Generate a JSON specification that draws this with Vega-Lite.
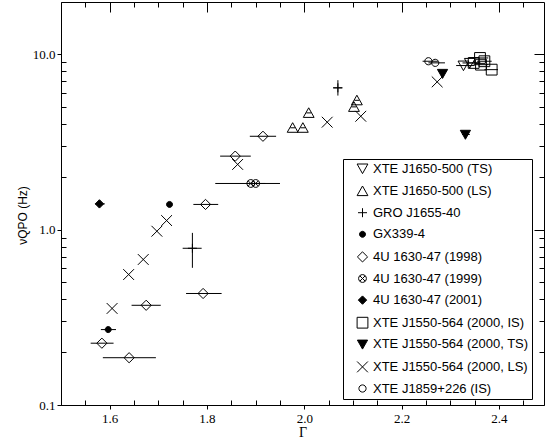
{
  "$schema": "https://vega.github.io/schema/vega-lite/v6.json",
  "autosize": {"type": "none"},
  "padding": {"left": 61, "top": 2, "right": 1, "bottom": 34},
  "width": 483,
  "height": 403,
  "background": "white",
  "config": {
    "view": {"stroke": "black", "strokeWidth": 1},
    "axis": {"domainColor": "black", "tickColor": "black", "labelColor": "black", "titleColor": "black", "grid": false, "ticks": true, "tickWidth": 1, "tickOpacity": 1, "zindex": 2},
    "legend": {"symbolStrokeColor": "black", "symbolStrokeWidth": 1}
  },
  "data": {
    "values": [
      {"s": "XTE J1650-500 (TS)", "x": 2.327, "y": 8.6, "xlo": 2.312, "xhi": 2.350},
      {"s": "XTE J1650-500 (TS)", "x": 2.340, "y": 8.9, "xlo": 2.325, "xhi": 2.360},
      {"s": "XTE J1650-500 (LS)", "x": 1.976, "y": 3.8, "xlo": 1.971, "xhi": 1.981},
      {"s": "XTE J1650-500 (LS)", "x": 1.997, "y": 3.8, "xlo": 1.992, "xhi": 2.002},
      {"s": "XTE J1650-500 (LS)", "x": 2.009, "y": 4.62, "xlo": 2.004, "xhi": 2.014},
      {"s": "XTE J1650-500 (LS)", "x": 2.102, "y": 5.0, "xlo": 2.097, "xhi": 2.107},
      {"s": "XTE J1650-500 (LS)", "x": 2.108, "y": 5.45, "xlo": 2.103, "xhi": 2.113},
      {"s": "GRO J1655-40", "x": 2.069, "y": 6.42, "xlo": 2.059, "xhi": 2.078, "ylo": 5.8, "yhi": 7.1},
      {"s": "GRO J1655-40", "x": 1.770, "y": 0.782, "xlo": 1.750, "xhi": 1.789, "ylo": 0.605, "yhi": 0.957},
      {"s": "GX339-4", "x": 1.723, "y": 1.39},
      {"s": "GX339-4", "x": 1.597, "y": 0.269, "xlo": 1.582, "xhi": 1.613},
      {"s": "4U 1630-47 (1998)", "x": 1.797, "y": 1.39, "xlo": 1.772, "xhi": 1.823},
      {"s": "4U 1630-47 (1998)", "x": 1.858, "y": 2.62, "xlo": 1.827, "xhi": 1.890},
      {"s": "4U 1630-47 (1998)", "x": 1.915, "y": 3.40, "xlo": 1.888, "xhi": 1.942},
      {"s": "4U 1630-47 (1998)", "x": 1.792, "y": 0.432, "xlo": 1.757, "xhi": 1.830},
      {"s": "4U 1630-47 (1998)", "x": 1.675, "y": 0.370, "xlo": 1.645, "xhi": 1.705},
      {"s": "4U 1630-47 (1998)", "x": 1.584, "y": 0.225, "xlo": 1.561, "xhi": 1.608},
      {"s": "4U 1630-47 (1998)", "x": 1.640, "y": 0.186, "xlo": 1.586, "xhi": 1.695},
      {"s": "4U 1630-47 (1999)", "x": 1.890, "y": 1.83, "xlo": 1.817, "xhi": 1.950},
      {"s": "4U 1630-47 (1999)", "x": 1.900, "y": 1.83, "xlo": 1.880, "xhi": 1.920},
      {"s": "4U 1630-47 (2001)", "x": 1.579, "y": 1.40, "xlo": 1.570, "xhi": 1.590},
      {"s": "XTE J1550-564 (2000, IS)", "x": 2.348, "y": 8.9, "xlo": 2.335, "xhi": 2.362},
      {"s": "XTE J1550-564 (2000, IS)", "x": 2.361, "y": 9.5, "xlo": 2.345, "xhi": 2.378},
      {"s": "XTE J1550-564 (2000, IS)", "x": 2.363, "y": 8.7, "xlo": 2.348, "xhi": 2.378},
      {"s": "XTE J1550-564 (2000, IS)", "x": 2.370, "y": 9.1, "xlo": 2.355, "xhi": 2.385},
      {"s": "XTE J1550-564 (2000, IS)", "x": 2.385, "y": 8.15, "xlo": 2.370, "xhi": 2.398},
      {"s": "XTE J1550-564 (2000, TS)", "x": 2.284, "y": 7.74},
      {"s": "XTE J1550-564 (2000, TS)", "x": 2.331, "y": 3.48, "xlo": 2.324, "xhi": 2.340},
      {"s": "XTE J1550-564 (2000, LS)", "x": 1.605, "y": 0.355},
      {"s": "XTE J1550-564 (2000, LS)", "x": 1.639, "y": 0.554},
      {"s": "XTE J1550-564 (2000, LS)", "x": 1.669, "y": 0.675},
      {"s": "XTE J1550-564 (2000, LS)", "x": 1.697, "y": 0.978},
      {"s": "XTE J1550-564 (2000, LS)", "x": 1.717, "y": 1.125},
      {"s": "XTE J1550-564 (2000, LS)", "x": 1.863, "y": 2.35},
      {"s": "XTE J1550-564 (2000, LS)", "x": 2.047, "y": 4.09},
      {"s": "XTE J1550-564 (2000, LS)", "x": 2.116, "y": 4.42},
      {"s": "XTE J1550-564 (2000, LS)", "x": 2.273, "y": 6.94},
      {"s": "XTE J1859+226 (IS)", "x": 2.255, "y": 9.10, "xlo": 2.243, "xhi": 2.275},
      {"s": "XTE J1859+226 (IS)", "x": 2.269, "y": 8.91, "xlo": 2.255, "xhi": 2.289}
    ]
  },
  "resolve": {"axis": {"x": "independent", "y": "independent"}},
  "layer": [
    {
      "transform": [{"filter": "isValid(datum.xlo) && datum.x < 2.2"}],
      "mark": {"type": "rule", "color": "black", "strokeWidth": 1},
      "encoding": {
        "x": {"field": "xlo", "type": "quantitative", "scale": {"domain": [1.5, 2.4925], "nice": false, "zero": false},
          "axis": {"orient": "top", "values": [1.6,1.8,2.0,2.2,2.4], "ticks": true, "tickColor": "black",
            "labels": false, "title": null, "domain": false, "tickSize": 10, "offset": -10}},
        "x2": {"field": "xhi"},
        "y": {"field": "y", "type": "quantitative", "scale": {"type": "log", "domain": [0.1, 19.8], "nice": false},
          "axis": {"orient": "right", "values": [1, 10], "ticks": true, "tickColor": "black",
            "labels": false, "title": null, "domain": false, "tickSize": 10, "offset": -10}}
      }
    },
    {
      "transform": [{"filter": "isValid(datum.xlo) && datum.x >= 2.2"}],
      "mark": {"type": "rule", "color": "black", "strokeWidth": 1},
      "encoding": {
        "x": {"field": "xlo", "type": "quantitative",
          "axis": {"orient": "top", "values": [1.55,1.65,1.7,1.75,1.85,1.9,1.95,2.05,2.1,2.15,2.25,2.3,2.35,2.45], "ticks": true, "tickColor": "black",
            "labels": false, "title": null, "domain": false, "tickSize": 5, "offset": -5}},
        "x2": {"field": "xhi"},
        "y": {"field": "y", "type": "quantitative",
          "axis": {"orient": "right", "values": [0.2,0.3,0.4,0.5,0.6,0.7,0.8,0.9,2,3,4,5,6,7,8,9], "ticks": true, "tickColor": "black",
            "labels": false, "title": null, "domain": false, "tickSize": 5, "offset": -5}}
      }
    },
    {
      "transform": [{"filter": "isValid(datum.ylo)"}],
      "mark": {"type": "rule", "color": "black", "strokeWidth": 1},
      "encoding": {
        "x": {"field": "x", "type": "quantitative",
          "axis": {"orient": "bottom", "values": [1.55,1.65,1.7,1.75,1.85,1.9,1.95,2.05,2.1,2.15,2.25,2.3,2.35,2.45], "ticks": true, "tickColor": "black",
            "labels": false, "title": null, "domain": false, "tickSize": 5, "offset": -5}},
        "y": {"field": "ylo", "type": "quantitative",
          "axis": {"orient": "left", "values": [0.2,0.3,0.4,0.5,0.6,0.7,0.8,0.9,2,3,4,5,6,7,8,9], "ticks": true, "tickColor": "black",
            "labels": false, "title": null, "domain": false, "tickSize": 5, "offset": -5}},
        "y2": {"field": "yhi"}
      }
    },
    {
      "mark": {"type": "point", "filled": false, "opacity": 1, "strokeWidth": 1, "size": 144},
      "encoding": {
        "x": {"field": "x", "type": "quantitative",
          "axis": {"orient": "bottom", "values": [1.6,1.8,2.0,2.2,2.4], "format": ".1f", "ticks": true, "tickColor": "black",
            "labelFont": "Liberation Serif", "labelFontSize": 13, "labelPadding": 3,
            "title": "Γ", "titleFont": "Liberation Serif", "titleFontSize": 14, "titleFontWeight": "normal", "titlePadding": 0,
            "domain": true, "tickSize": 4}},
        "y": {"field": "y", "type": "quantitative",
          "axis": {"orient": "left", "values": [0.1, 1, 10], "format": ".1f", "ticks": true, "tickColor": "black",
            "labelFont": "Liberation Serif", "labelFontSize": 13, "labelPadding": 2,
            "title": "νQPO (Hz)", "titleFont": "Liberation Sans", "titleFontSize": 12, "titleFontWeight": "normal",
            "titleX": -39, "titleY": 213, "titleBaseline": "middle", "titleAngle": -90,
            "domain": true, "tickSize": 4}},
        "shape": {"field": "s", "type": "nominal",
          "scale": {
            "domain": ["XTE J1650-500 (TS)", "XTE J1650-500 (LS)", "GRO J1655-40", "GX339-4", "4U 1630-47 (1998)", "4U 1630-47 (1999)", "4U 1630-47 (2001)", "XTE J1550-564 (2000, IS)", "XTE J1550-564 (2000, TS)", "XTE J1550-564 (2000, LS)", "XTE J1859+226 (IS)"],
            "range": [
              "M-0.9,-0.75L0.9,-0.75L0,0.85Z",
              "M-0.9,0.75L0.9,0.75L0,-0.85Z",
              "M-0.75,0L0.75,0M0,-0.75L0,0.75",
              "M-0.5,0A0.5,0.5 0 1,0 0.5,0A0.5,0.5 0 1,0 -0.5,0Z",
              "M0,-0.85L0.85,0L0,0.85L-0.85,0Z",
              "M-0.65,0A0.65,0.65 0 1,0 0.65,0A0.65,0.65 0 1,0 -0.65,0ZM-0.46,-0.46L0.46,0.46M-0.46,0.46L0.46,-0.46",
              "M0,-0.7L0.7,0L0,0.7L-0.7,0Z",
              "M-0.9,-0.9L0.9,-0.9L0.9,0.9L-0.9,0.9Z",
              "M-0.85,-0.7L0.85,-0.7L0,0.8Z",
              "M-0.9,-0.9L0.9,0.9M-0.9,0.9L0.9,-0.9",
              "M-0.6,0A0.6,0.6 0 1,0 0.6,0A0.6,0.6 0 1,0 -0.6,0Z"
            ]
          },
          "legend": {
            "title": null, "orient": "none", "legendX": 282, "legendY": 157, "zindex": 3,
            "labelFont": "Liberation Sans", "labelFontSize": 13, "labelColor": "black", "labelLimit": 300, "labelOffset": 4,
            "symbolSize": 144, "symbolStrokeColor": "black", "symbolStrokeWidth": 1, "symbolOffset": 10,
            "strokeColor": "black", "fillColor": "white", "padding": 3, "rowPadding": 7.6
          }
        },
        "fill": {"field": "s", "type": "nominal",
          "scale": {
            "domain": ["XTE J1650-500 (TS)", "XTE J1650-500 (LS)", "GRO J1655-40", "GX339-4", "4U 1630-47 (1998)", "4U 1630-47 (1999)", "4U 1630-47 (2001)", "XTE J1550-564 (2000, IS)", "XTE J1550-564 (2000, TS)", "XTE J1550-564 (2000, LS)", "XTE J1859+226 (IS)"],
            "range": ["transparent", "transparent", "transparent", "black", "transparent", "transparent", "black", "transparent", "black", "transparent", "transparent"]
          },
          "legend": {
            "title": null, "orient": "none", "legendX": 282, "legendY": 157, "zindex": 3,
            "labelFont": "Liberation Sans", "labelFontSize": 13, "labelColor": "black", "labelLimit": 300, "labelOffset": 4,
            "symbolSize": 144, "symbolStrokeColor": "black", "symbolStrokeWidth": 1, "symbolOffset": 10,
            "strokeColor": "black", "fillColor": "white", "padding": 3, "rowPadding": 7.6
          }
        },
        "stroke": {"field": "s", "type": "nominal",
          "scale": {
            "domain": ["XTE J1650-500 (TS)", "XTE J1650-500 (LS)", "GRO J1655-40", "GX339-4", "4U 1630-47 (1998)", "4U 1630-47 (1999)", "4U 1630-47 (2001)", "XTE J1550-564 (2000, IS)", "XTE J1550-564 (2000, TS)", "XTE J1550-564 (2000, LS)", "XTE J1859+226 (IS)"],
            "range": ["black", "black", "black", "black", "black", "black", "black", "black", "black", "black", "black"]
          },
          "legend": {
            "title": null, "orient": "none", "legendX": 282, "legendY": 157, "zindex": 3,
            "labelFont": "Liberation Sans", "labelFontSize": 13, "labelColor": "black", "labelLimit": 300, "labelOffset": 4,
            "symbolSize": 144, "symbolStrokeColor": "black", "symbolStrokeWidth": 1, "symbolOffset": 10,
            "strokeColor": "black", "fillColor": "white", "padding": 3, "rowPadding": 7.6
          }
        }
      }
    }
  ]
}
